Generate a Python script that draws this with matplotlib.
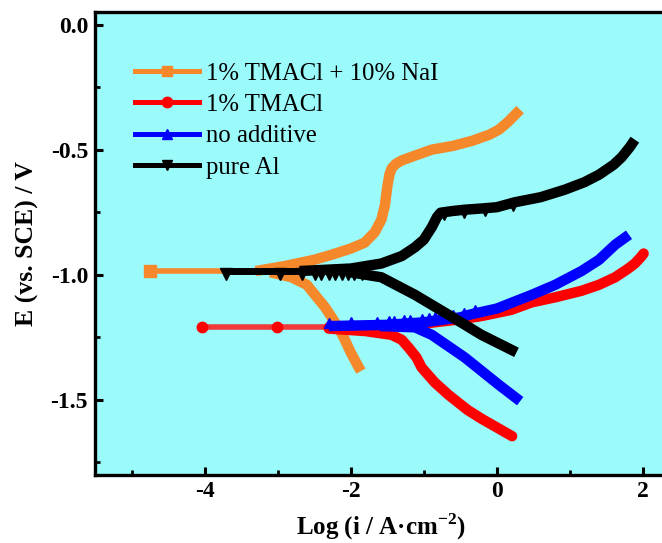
import numpy as np
import matplotlib
matplotlib.use("Agg")
import matplotlib.pyplot as plt
from matplotlib.lines import Line2D
from matplotlib.ticker import MultipleLocator

plt.rcParams["font.family"] = ["Liberation Serif", "DejaVu Serif"]
plt.rcParams["mathtext.fontset"] = "custom"
plt.rcParams["mathtext.rm"] = "Liberation Serif:bold"
plt.rcParams["mathtext.bf"] = "Liberation Serif:bold"

# ---- Tafel polarisation data: log current density vs potential ----
# 1% TMACl + 10% NaI
nai_lead_logi = [-4.75, -3.2]
nai_lead_e = [-0.985, -0.985]
nai_anodic_logi = [-3.3, -2.9, -2.5, -2.26, -2.0, -1.81, -1.67, -1.58, -1.53, -1.50, -1.47,
                   -1.44, -1.38, -1.30, -1.15, -0.89, -0.6, -0.34, -0.1, 0.03, 0.15, 0.32]
nai_anodic_e = [-0.985, -0.965, -0.94, -0.92, -0.895, -0.872, -0.83, -0.78, -0.72, -0.65, -0.60,
                -0.575, -0.556, -0.543, -0.527, -0.50, -0.485, -0.465, -0.44, -0.42, -0.39, -0.34]
nai_cathodic_logi = [-3.1, -2.81, -2.6, -2.49, -2.35, -2.26, -2.15, -2.08, -2.0, -1.89, -1.86]
nai_cathodic_e = [-0.99, -1.01, -1.04, -1.08, -1.13, -1.17, -1.22, -1.26, -1.31, -1.37, -1.385]
nai_marker_logi = [-4.75]

# 1% TMACl
tma_lead_logi = [-4.03, -2.3]
tma_lead_e = [-1.21, -1.21]
tma_anodic_logi = [-2.3, -1.5, -1.0, -0.5, -0.21, 0.2, 0.48, 0.8, 1.16, 1.4, 1.62, 1.8, 1.89, 1.97, 2.01]
tma_anodic_e = [-1.21, -1.205, -1.195, -1.178, -1.165, -1.14, -1.11, -1.09, -1.064, -1.04,
                -1.01, -0.975, -0.955, -0.93, -0.915]
tma_cathodic_logi = [-2.3, -1.8, -1.44, -1.3, -1.21, -1.1, -1.03, -0.85, -0.66, -0.4, -0.21, 0.0, 0.21]
tma_cathodic_e = [-1.215, -1.225, -1.24, -1.26, -1.29, -1.33, -1.37, -1.43, -1.48, -1.54,
                  -1.575, -1.61, -1.645]
tma_marker_logi = [-4.03, -3.01]

# no additive
blank_anodic_logi = [-2.3, -1.5, -1.0, -0.5, -0.34, 0.0, 0.48, 0.8, 1.16, 1.4, 1.62, 1.81]
blank_anodic_e = [-1.205, -1.2, -1.19, -1.17, -1.157, -1.135, -1.08, -1.04, -0.985, -0.94, -0.88, -0.84]
blank_cathodic_logi = [-1.6, -1.12, -0.89, -0.44, 0.03, 0.32]
blank_cathodic_e = [-1.205, -1.21, -1.24, -1.33, -1.44, -1.505]
blank_marker_logi = [-2.29, -1.99, -1.64, -1.48, -1.41, -1.27, -1.19, -1.03, -0.93, -0.85,
                     -0.75, -0.6, -0.45, -0.3]

# pure Al
al_lead_logi = [-3.7, -2.7]
al_lead_e = [-0.985, -0.985]
al_anodic_logi = [-2.7, -2.0, -1.58, -1.3, -1.12, -1.0, -0.89, -0.82, -0.77, -0.6, -0.44, -0.2,
                  0.0, 0.25, 0.6, 0.93, 1.2, 1.4, 1.6, 1.71, 1.82, 1.89]
al_anodic_e = [-0.985, -0.975, -0.955, -0.925, -0.89, -0.86, -0.81, -0.77, -0.752, -0.745,
               -0.74, -0.735, -0.73, -0.71, -0.69, -0.66, -0.63, -0.60, -0.56, -0.53, -0.49, -0.46]
al_cathodic_logi = [-2.0, -1.58, -1.12, -0.66, -0.21, 0.27]
al_cathodic_e = [-0.99, -1.01, -1.08, -1.16, -1.24, -1.31]
al_marker_logi = [-3.7, -2.97, -2.67, -2.49, -2.40, -2.30, -2.22, -2.12, -2.03, -1.95, -1.85]
al_plateau_marker_logi = [-0.72, -0.45, -0.16, 0.22]

labels = ["1% TMACl + 10% NaI", "1% TMACl", "no additive", "pure Al"]
colors = ["#F5882A", "#FF0000", "#0000FF", "#000000"]

fig = plt.figure(figsize=(6.62, 5.43), dpi=100)
ax = fig.add_axes([95 / 662, 68 / 543, 572 / 662, 463 / 543])
ax.set_facecolor("#9BFBFB")

LW = 7.5
THIN = 4.0

# 1% TMACl + 10% NaI
c = colors[0]
ax.plot(nai_lead_logi, nai_lead_e, color=c, lw=THIN, solid_capstyle="butt")
ax.plot(nai_anodic_logi, nai_anodic_e, color=c, lw=LW, solid_capstyle="butt",
        solid_joinstyle="round")
ax.plot(nai_cathodic_logi, nai_cathodic_e, color=c, lw=LW, solid_capstyle="butt")
ax.plot(nai_marker_logi, np.interp(nai_marker_logi, nai_lead_logi, nai_lead_e),
        ls="none", marker="s", ms=8, color=c)

# 1% TMACl
c = colors[1]
ax.plot(tma_lead_logi, tma_lead_e, color="#F03A3A", lw=THIN, solid_capstyle="butt")
ax.plot(tma_cathodic_logi, tma_cathodic_e, color=c, lw=LW, solid_capstyle="round")
ax.plot(tma_anodic_logi, tma_anodic_e, color=c, lw=LW, solid_capstyle="round")
ax.plot(tma_marker_logi, np.interp(tma_marker_logi, tma_lead_logi, tma_lead_e),
        ls="none", marker="o", ms=7.5, color=c)

# no additive
c = colors[2]
ax.plot(blank_cathodic_logi, blank_cathodic_e, color=c, lw=LW, solid_capstyle="butt")
ax.plot(blank_anodic_logi, blank_anodic_e, color=c, lw=LW, solid_capstyle="butt")
ax.plot(blank_marker_logi, np.interp(blank_marker_logi, blank_anodic_logi, blank_anodic_e) + 0.014,
        ls="none", marker="^", ms=6.5, color=c)

# pure Al
c = colors[3]
ax.plot(al_lead_logi, al_lead_e, color=c, lw=THIN + 1, solid_capstyle="butt")
ax.plot(al_cathodic_logi, al_cathodic_e, color=c, lw=LW, solid_capstyle="butt")
ax.plot(al_anodic_logi, al_anodic_e, color=c, lw=LW, solid_capstyle="butt")
ax.plot(al_marker_logi, np.interp(al_marker_logi, al_anodic_logi[:1] + al_lead_logi[:1],
                                  [-0.985, -0.985]) - 0.012,
        ls="none", marker="v", ms=8, color=c)
ax.plot(al_plateau_marker_logi, np.interp(al_plateau_marker_logi, al_anodic_logi, al_anodic_e) - 0.016,
        ls="none", marker="v", ms=6, color=c)

ax.set_xlim(-5.5, 2.33)
ax.set_ylim(-1.8, 0.05)
ax.xaxis.set_major_locator(MultipleLocator(2))
ax.xaxis.set_minor_locator(MultipleLocator(1))
ax.yaxis.set_major_locator(MultipleLocator(0.5))
ax.yaxis.set_minor_locator(MultipleLocator(0.25))
ax.xaxis.set_major_formatter(plt.FuncFormatter(lambda v, p: f"{v:.0f}".replace("−", "-")))
ax.yaxis.set_major_formatter(plt.FuncFormatter(lambda v, p: f"{v:.1f}".replace("−", "-")))
ax.tick_params(which="major", direction="in", length=6, width=2.2, labelsize=17, pad=5)
ax.tick_params(axis="x", which="major", pad=4)
ax.tick_params(which="minor", direction="in", length=3.5, width=2.0)
for lab in ax.get_xticklabels() + ax.get_yticklabels():
    lab.set_fontweight("bold")
for s in ax.spines.values():
    s.set_linewidth(2.4)

ax.set_xlabel("Log (i / A·cm$^{-2}$)", fontsize=18, fontweight="bold", labelpad=7)
ax.set_ylabel("E (vs. SCE) / V", fontsize=18.5, fontweight="bold", labelpad=8)

markers = ["s", "o", "^", "v"]
handles = [Line2D([], [], color=col, lw=3.6, marker=m, ms=7.5) for col, m in zip(colors, markers)]
ax.legend(handles, labels, loc="upper left", bbox_to_anchor=(0.052, 0.912), frameon=False,
          fontsize=17.8, handlelength=2.6, handletextpad=0.3, labelspacing=0.36,
          borderaxespad=0)

fig.savefig("out.png", dpi=100)
